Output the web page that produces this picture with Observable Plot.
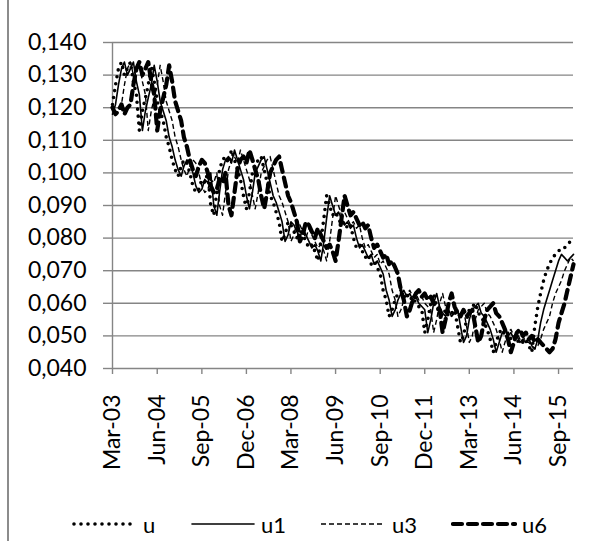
<!DOCTYPE html>
<html>
<head>
<meta charset="utf-8">
<script src="https://cdn.jsdelivr.net/npm/d3@7"></script>
<script src="https://cdn.jsdelivr.net/npm/@observablehq/plot@0.6"></script>
<style>
  html, body { margin: 0; padding: 0; background: #fff; }
  #wrap { position: relative; width: 595px; height: 541px; overflow: hidden; font-family: Lato, "Open Sans", sans-serif; }
  #border { position: absolute; left: 7px; top: 0; width: 1.5px; height: 541px; background: #8c8c8c; }
  .leg { position: absolute; top: 509px; height: 30px; display: flex; align-items: center; font-size: 22px; color: #000; }
  .leg svg { display: block; }
</style>
</head>
<body>
<div id="wrap">
  <div id="border"></div>
  <div id="chart"></div>
</div>
<script>
// ---- data (monthly, Mar-2003 .. Feb-2016) ----
const startMonth = new Date(2003, 2, 1);
const endMonthExclusive = new Date(2016, 2, 1);

const seriesNames = ["u", "u1", "u3", "u6"];

const u = [
  0.121,0.127,0.132,0.134,0.130,0.132,0.134,0.128,0.124,0.113,
  0.119,0.123,0.127,0.133,0.128,0.122,0.119,0.116,0.111,0.108,0.104,0.101,
  0.099,0.102,0.104,0.103,0.100,0.096,0.094,0.095,0.098,0.097,0.100,0.090,
  0.087,0.094,0.101,0.104,0.105,0.103,0.107,0.104,0.101,0.098,0.093,0.089,
  0.094,0.100,0.102,0.104,0.105,0.101,0.097,0.093,0.091,0.088,0.085,0.079,
  0.081,0.085,0.084,0.082,0.080,0.083,0.081,0.079,0.077,0.078,0.076,0.073,
  0.079,0.086,0.093,0.090,0.087,0.088,0.086,0.084,0.085,0.083,0.084,0.080,
  0.077,0.078,0.076,0.074,0.075,0.072,0.073,0.071,0.069,0.064,0.061,0.056,
  0.058,0.061,0.063,0.064,0.062,0.063,0.061,0.062,0.060,0.059,0.058,0.051,
  0.055,0.060,0.063,0.059,0.057,0.056,0.058,0.056,0.057,0.058,0.053,0.048,
  0.050,0.055,0.058,0.059,0.060,0.057,0.056,0.054,0.052,0.049,0.045,0.048,
  0.051,0.052,0.050,0.051,0.049,0.050,0.048,0.049,0.048,0.049,0.047,0.045,
  0.053,0.059,0.063,0.067,0.070,0.072,0.074,0.075,0.076,0.077,0.077,0.078,
  0.079,0.080
];

const u1 = [
  0.118,
  0.121,0.127,0.132,0.134,0.130,0.132,0.134,0.128,0.124,0.113,
  0.119,0.123,0.127,0.133,0.128,0.122,0.119,0.116,0.111,0.108,0.104,0.101,
  0.099,0.102,0.104,0.103,0.100,0.096,0.094,0.095,0.098,0.097,0.100,0.090,
  0.087,0.094,0.101,0.104,0.105,0.103,0.107,0.104,0.101,0.098,0.093,0.089,
  0.094,0.100,0.102,0.104,0.105,0.101,0.097,0.093,0.091,0.088,0.085,0.079,
  0.081,0.085,0.084,0.082,0.080,0.083,0.081,0.079,0.077,0.078,0.076,0.073,
  0.079,0.086,0.093,0.090,0.087,0.088,0.086,0.084,0.085,0.083,0.084,0.080,
  0.077,0.078,0.076,0.074,0.075,0.072,0.073,0.071,0.069,0.064,0.061,0.056,
  0.058,0.061,0.063,0.064,0.062,0.063,0.061,0.062,0.060,0.059,0.058,0.051,
  0.055,0.060,0.063,0.059,0.057,0.056,0.058,0.056,0.057,0.058,0.053,0.048,
  0.050,0.055,0.058,0.059,0.060,0.057,0.056,0.054,0.052,0.049,0.045,0.048,
  0.051,0.052,0.050,0.051,0.049,0.050,0.048,0.049,0.048,
  0.049,0.047,0.046,0.049,0.054,0.058,0.061,0.064,0.067,0.070,0.073,0.075,0.074,0.073,0.074,0.075
];

const u3 = [
  0.118,0.119,0.120,
  0.121,0.127,0.132,0.134,0.130,0.132,0.134,0.128,0.124,0.113,
  0.119,0.123,0.127,0.133,0.128,0.122,0.119,0.116,0.111,0.108,0.104,0.101,
  0.099,0.102,0.104,0.103,0.100,0.096,0.094,0.095,0.098,0.097,0.100,0.090,
  0.087,0.094,0.101,0.104,0.105,0.103,0.107,0.104,0.101,0.098,0.093,0.089,
  0.094,0.100,0.102,0.104,0.105,0.101,0.097,0.093,0.091,0.088,0.085,0.079,
  0.081,0.085,0.084,0.082,0.080,0.083,0.081,0.079,0.077,0.078,0.076,0.073,
  0.079,0.086,0.093,0.090,0.087,0.088,0.086,0.084,0.085,0.083,0.084,0.080,
  0.077,0.078,0.076,0.074,0.075,0.072,0.073,0.071,0.069,0.064,0.061,0.056,
  0.058,0.061,0.063,0.064,0.062,0.063,0.061,0.062,0.060,0.059,0.058,0.051,
  0.055,0.060,0.063,0.059,0.057,0.056,0.058,0.056,0.057,0.058,0.053,0.048,
  0.050,0.055,0.058,0.059,0.060,0.057,0.056,0.054,0.052,0.049,0.045,0.048,
  0.051,0.052,0.050,0.051,0.049,0.050,0.048,
  0.048,0.047,0.046,0.047,0.049,0.052,0.054,0.056,0.060,0.063,0.065,0.067,0.070,0.072,0.074,0.073
];

const u6 = [
  0.120,0.118,0.119,0.121,0.118,0.120,
  0.121,0.127,0.132,0.134,0.130,0.132,0.134,0.128,0.124,0.113,
  0.119,0.123,0.127,0.133,0.128,0.122,0.119,0.116,0.111,0.108,0.104,0.101,
  0.099,0.102,0.104,0.103,0.100,0.096,0.094,0.095,0.098,0.097,0.100,0.090,
  0.087,0.094,0.101,0.104,0.105,0.103,0.107,0.104,0.101,0.098,0.093,0.089,
  0.094,0.100,0.102,0.104,0.105,0.101,0.097,0.093,0.091,0.088,0.085,0.079,
  0.081,0.085,0.084,0.082,0.080,0.083,0.081,0.079,0.077,0.078,0.076,0.073,
  0.079,0.086,0.093,0.090,0.087,0.088,0.086,0.084,0.085,0.083,0.084,0.080,
  0.077,0.078,0.076,0.074,0.075,0.072,0.073,0.071,0.069,0.064,0.061,0.056,
  0.058,0.061,0.063,0.064,0.062,0.063,0.061,0.062,0.060,0.059,0.058,0.051,
  0.055,0.060,0.063,0.059,0.057,0.056,0.058,0.056,0.057,0.058,0.053,0.048,
  0.050,0.055,0.058,0.059,0.060,0.057,0.056,0.054,0.052,0.049,0.045,0.048,
  0.051,0.052,0.050,0.051,
  0.049,0.050,0.048,0.049,0.048,0.047,0.046,0.045,0.046,0.049,0.054,0.057,0.060,0.064,0.068,0.072
];

const tickLabels = ["Mar-03","Jun-04","Sep-05","Dec-06","Mar-08","Jun-09","Sep-10","Dec-11","Mar-13","Jun-14","Sep-15"];
const yTicks = [0.04,0.05,0.06,0.07,0.08,0.09,0.10,0.11,0.12,0.13,0.14];

// ---- build tables ----
const months = d3.timeMonth.range(startMonth, endMonthExclusive);
const parse = d3.timeParse("%b-%y");
const tickDates = tickLabels.map(parse);
const seriesValues = {u, u1, u3, u6};
const table = name => seriesValues[name].map((v, i) => ({date: months[i], value: v}));

const styles = {
  u:  {strokeWidth: 3.6, strokeDasharray: "0 7", strokeLinecap: "round"},
  u1: {strokeWidth: 1.6, strokeDasharray: null, strokeLinecap: "round"},
  u3: {strokeWidth: 1.4, strokeDasharray: "5 3", strokeLinecap: "butt"},
  u6: {strokeWidth: 4.2, strokeDasharray: "9 6", strokeLinecap: "round"}
};

const gray = "#858585";
const fmtY = d => d.toFixed(3).replace(".", ",");

const chart = Plot.plot({
  width: 595,
  height: 500,
  marginLeft: 112,
  marginRight: 22,
  marginTop: 42,
  marginBottom: 132,
  style: {fontFamily: "Lato, 'Open Sans', sans-serif", fontSize: "23px", color: "#000", background: "transparent"},
  x: {type: "time", domain: [months[0], months[months.length - 1]]},
  y: {domain: [0.04, 0.14]},
  marks: [
    Plot.ruleY(yTicks, {stroke: gray, strokeWidth: 1.4}),
    Plot.ruleX([months[0]], {stroke: gray, strokeWidth: 1.4}),
    Plot.axisY({ticks: yTicks, tickFormat: fmtY, tickSize: 9, tickPadding: 17, stroke: gray, strokeWidth: 1.4, fill: "#000", fontSize: 23, label: null}),
    Plot.axisX({ticks: tickDates, tickFormat: d3.timeFormat("%b-%y"), tickRotate: -90, tickSize: 6, tickPadding: 20, stroke: gray, strokeWidth: 1.4, fill: "#000", fontSize: 23, label: null}),
    ...seriesNames.map(name => Plot.line(table(name), {
      x: "date", y: "value", stroke: "#000",
      strokeWidth: styles[name].strokeWidth,
      strokeDasharray: styles[name].strokeDasharray,
      strokeLinecap: styles[name].strokeLinecap,
      strokeLinejoin: "round"
    }))
  ]
});
document.getElementById("chart").appendChild(chart);

// ---- legend (HTML) ----
const legendPos = {u: 72, u1: 190, u3: 321, u6: 451};
const wrap = document.getElementById("wrap");
seriesNames.forEach(name => {
  const s = styles[name];
  const item = document.createElement("div");
  item.className = "leg";
  item.style.left = legendPos[name] + "px";
  const sw = 66;
  item.innerHTML =
    `<svg width="${sw}" height="30"><line x1="${s.strokeLinecap === "round" ? 2 : 0}" x2="${sw - 2}" y1="15" y2="15" stroke="#000" stroke-width="${s.strokeWidth}" ${s.strokeDasharray ? `stroke-dasharray="${s.strokeDasharray}"` : ""} stroke-linecap="${s.strokeLinecap}"/></svg><span style="margin-left:5px">${name}</span>`;
  wrap.appendChild(item);
});
</script>
</body>
</html>
